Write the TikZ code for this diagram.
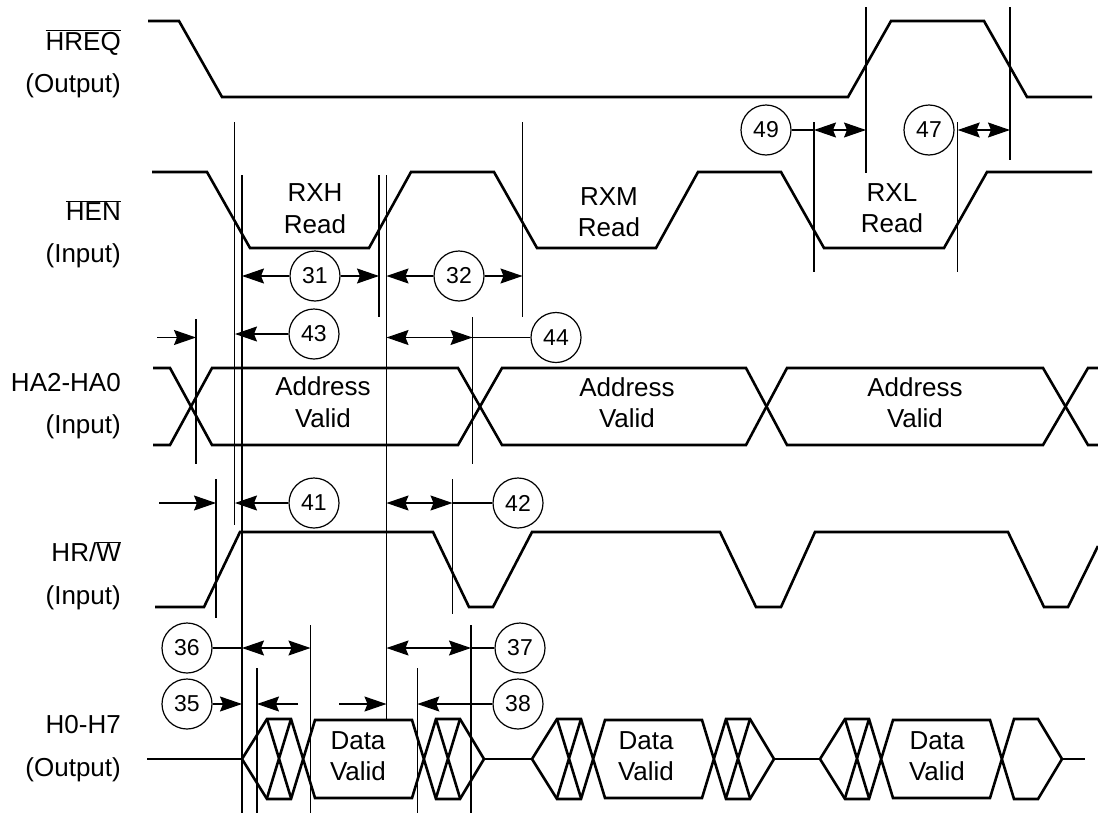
\documentclass[tikz,border=0pt]{standalone}
\usepackage{fontspec}
\setmainfont{Liberation Sans}
\usetikzlibrary{arrows.meta}

\newcommand{\barred}[1]{$\overline{\mbox{#1}}$}

\begin{document}
\begin{tikzpicture}[x=1pt, y=-1pt,
    >={Stealth[length=22pt, width=15pt, inset=3pt]},
    sig/.style={line width=2.6pt},
    tline/.style={line width=1.2pt},
    num/.style={circle, draw, line width=1.2pt, fill=white, minimum size=50pt, inner sep=0pt, font=\fontsize{23}{27}\selectfont},
    lab/.style={anchor=base east, inner sep=0pt, font=\fontsize{26}{31}\selectfont},
    txt/.style={anchor=base, inner sep=0pt, font=\fontsize{26}{31}\selectfont}]
    \useasboundingbox (0,0) rectangle (1098,814);

    % Signal names
    \foreach \y/\lab [count=\i] in {50/{\barred{HREQ}}, 92/(Output), 220/{\barred{HEN}}, 262/(Input), 391/HA2-HA0, 433/(Input), 561/{HR/\barred{W}}, 604/(Input), 733/H0-H7, 776/(Output)} {
        \node [lab] (name\i) at (121, \y) {\lab};
    }

    % HREQ
    \draw [sig] (148,21) -- (179,21) -- (222,97) -- (848,97) -- (891,21) -- (984,21) -- (1027,97) -- (1092,97);
    % HEN
    \draw [sig] (152,172) -- (207,172) -- (250,248) -- (369,248) -- (411,172) -- (494,172) -- (537,248) -- (656,248) -- (698,172) -- (781,172) -- (824,248) -- (944,248) -- (987,172) -- (1092,172);
    % HA2-HA0
    \draw [sig] (153,368) -- (170,368) -- (212,445) -- (458,445) -- (502,368) -- (746,368) -- (787,445) -- (1043,445) -- (1088,368) -- (1098,368);
    \draw [sig] (153,445) -- (170,445) -- (212,368) -- (458,368) -- (502,445) -- (746,445) -- (787,368) -- (1043,368) -- (1088,445) -- (1098,445);
    % HR/W
    \draw [sig] (155,607) -- (204,607) -- (240,532) -- (433,532) -- (469,607) -- (493,607) -- (532,532) -- (720,532) -- (756,607) -- (781,607) -- (815,532) -- (1008,532) -- (1044,607) -- (1068,607) -- (1098,546);
    % H0-H7
    \draw [sig] (147,759) -- (242,759) (484,759) -- (532,759) (774,759) -- (820,759) (1062,759) -- (1085,759);
    \foreach \s in {242, 532, 820} {
        \draw [sig] (\s,759) -- ++(25,-40) -- ++(24,0) -- ++(24,79) -- ++(97,0) -- ++(24,-79) -- ++(24,0) -- ++(24,40)
            -- ++(-24,40) -- ++(-24,0) -- ++(-24,-79) -- ++(-97,0) -- ++(-24,79) -- ++(-24,0) -- cycle;
        \draw [sig] (\s+25,719) -- ++(24,79) (\s+25,798) -- ++(24,-79);
    }
    \foreach \s in {242, 532} \draw [sig] (\s+194,719) -- ++(24,79) (\s+194,798) -- ++(24,-79);

    % Reference lines
    \foreach \x/\ya/\yb in {234.5/122/525, 242/175/813, 379/175/317, 386.5/175/719, 522.5/122/317, 196/319/464, 472.5/317/464, 216/479/618, 452.5/479/614, 257/668/813, 310.5/625/813, 417.3/668/813, 471/625/813, 814/122/272, 866/7/173, 957.7/122/272, 1010/7/160} {
        \draw [tline] (\x,\ya) -- (\x,\yb);
    }

    % Phase texts
    \foreach \x/\y/\t [count=\i] in {315/201.7/RXH, 315/233.3/Read, 609/205/RXM, 609/236.7/Read, 892/201/RXL, 892/232.3/Read,
        323/395.7/Address, 323/427.3/Valid, 627/396/Address, 627/427/Valid, 915/396/Address, 915/427/Valid,
        358/749/Data, 358/780/Valid, 646/749/Data, 646/780/Valid, 937/749/Data, 937/780/Valid} {
        \node [txt] (w\i) at (\x,\y) {\t};
    }

    % Timing numbers
    \foreach \n/\x/\y in {31/315/276, 32/459/276, 43/314/334, 44/556/337.5, 41/314/503, 42/518/503, 36/187/648, 37/520/648, 35/187/704, 38/518/704, 49/766/130, 47/929/130} {
        \node [num] (c\n) at (\x,\y) {\n};
    }

    % Arrow ends
    \foreach \n/\x/\y in {t31a/242/276, t31b/379/276, t32a/386.5/276, t32b/522.5/276,
        t43a/235/334, s43a/157/337.5, s43b/196/337.5, t44a/386.5/337.5, t44b/472.5/337.5,
        t41a/235/503, s41a/159/503, s41b/216/503, t42a/386.5/503, t42b/452.5/503,
        t36a/242/648, t36b/310.5/648, t37a/386.5/648, t37b/471/648,
        t35a/242/704, s35a/298/704, s35b/257/704, s35c/339/704, s35d/386.5/704, t38a/417.3/704,
        t49a/814/130, t49b/866/130, t47a/957.7/130, t47b/1010/130} {
        \coordinate (\n) at (\x,\y);
    }

    \draw [tline, <-] (t31a) -- (c31);
    \draw [tline, ->] (c31) -- (t31b);
    \draw [tline, <-] (t32a) -- (c32);
    \draw [tline, ->] (c32) -- (t32b);
    \draw [tline, ->] (c43) -- (t43a);
    \draw [tline, ->] (s43a) -- (s43b);
    \draw [tline, <->] (t44a) -- (t44b);
    \draw [tline] (t44b) -- (c44);
    \draw [tline, ->] (c41) -- (t41a);
    \draw [tline, ->] (s41a) -- (s41b);
    \draw [tline, <->] (t42a) -- (t42b);
    \draw [tline] (t42b) -- (c42);
    \draw [tline] (c36) -- (t36a);
    \draw [tline, <->] (t36a) -- (t36b);
    \draw [tline, <->] (t37a) -- (t37b);
    \draw [tline] (t37b) -- (c37);
    \draw [tline, ->] (c35) -- (t35a);
    \draw [tline, ->] (s35a) -- (s35b);
    \draw [tline, ->] (s35c) -- (s35d);
    \draw [tline, ->] (c38) -- (t38a);
    \draw [tline] (c49) -- (t49a);
    \draw [tline, <->] (t49a) -- (t49b);
    \draw [tline, <->] (t47a) -- (t47b);
\end{tikzpicture}
\end{document}
